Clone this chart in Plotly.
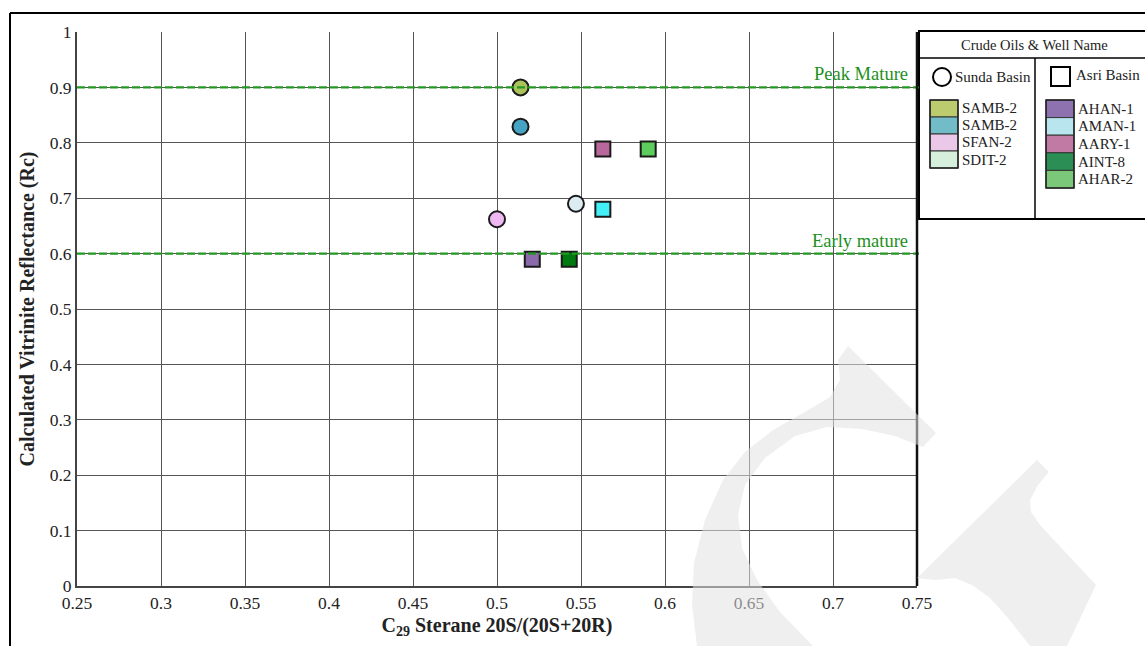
import plotly.graph_objects as go

# ---------------- data ----------------
sunda_names = ["SAMB-2", "SAMB-2", "SFAN-2", "SDIT-2"]
sunda_x = [0.514, 0.514, 0.500, 0.547]
sunda_y = [0.900, 0.829, 0.662, 0.690]
sunda_marker_colors = ["#a9c25a", "#45a4c4", "#f0b8f2", "#dcedf1"]
sunda_swatch_colors = ["#bccb6e", "#72bcc8", "#ecc8e8", "#d6eedc"]

asri_names = ["AHAN-1", "AMAN-1", "AARY-1", "AINT-8", "AHAR-2"]
asri_x = [0.521, 0.563, 0.563, 0.543, 0.590]
asri_y = [0.590, 0.680, 0.789, 0.590, 0.789]
asri_marker_colors = ["#8a6aaa", "#44f0f8", "#b8689a", "#007a10", "#5ccc5c"]
asri_swatch_colors = ["#8e72b0", "#b9e6ee", "#c07aa4", "#2b8f55", "#7cc87a"]

maturity_levels = [0.9, 0.6]
maturity_labels = ["Peak Mature", "Early mature"]

x_ticks = [0.25, 0.3, 0.35, 0.4, 0.45, 0.5, 0.55, 0.6, 0.65, 0.7, 0.75]
y_ticks = [0, 0.1, 0.2, 0.3, 0.4, 0.5, 0.6, 0.7, 0.8, 0.9, 1]

# ---------------- layout constants ----------------
W, H = 1145, 646
L, R, T, B = 77, 917, 32, 586
FONT = "Liberation Serif"
GREEN = "#1e8f1e"


def px_x(p):
    return (p - L) / (R - L)


def px_y(p):
    return (B - p) / (B - T)


def px_path(points):
    s = ""
    for i, (x, y) in enumerate(points):
        s += ("M" if i == 0 else "L") + f"{px_x(x):.5f},{px_y(y):.5f} "
    return s + "Z"


fig = go.Figure()

fig.add_trace(go.Scatter(
    x=sunda_x, y=sunda_y, mode="markers", text=sunda_names,
    marker=dict(symbol="circle", size=16, color=sunda_marker_colors,
                line=dict(color="#1a1a1a", width=2)),
    showlegend=False, hovertemplate="%{text}<extra></extra>"))

fig.add_trace(go.Scatter(
    x=asri_x, y=asri_y, mode="markers", text=asri_names,
    marker=dict(symbol="square", size=15, color=asri_marker_colors,
                line=dict(color="#1a1a1a", width=2)),
    showlegend=False, hovertemplate="%{text}<extra></extra>"))

shapes = []
annotations = []

# maturity dashed lines
for lvl, lab in zip(maturity_levels, maturity_labels):
    shapes.append(dict(type="line", xref="paper", yref="y", x0=0, x1=px_x(919),
                       y0=lvl, y1=lvl, layer="above",
                       line=dict(color="#229a22", width=2.2, dash="8px,3px")))
    annotations.append(dict(xref="paper", yref="y", x=px_x(910), y=lvl, text=lab,
                            showarrow=False, xanchor="right", yanchor="bottom", yshift=1,
                            font=dict(family=FONT, size=18.5, color=GREEN)))

# right plot border
shapes.append(dict(type="line", xref="paper", yref="paper", x0=1, x1=1, y0=0, y1=1,
                   line=dict(color="#111", width=2.5)))

# outer frame (left + top)
shapes.append(dict(type="line", xref="paper", yref="paper", x0=px_x(10), x1=px_x(10),
                   y0=px_y(13), y1=px_y(H + 5), line=dict(color="black", width=2)))
shapes.append(dict(type="line", xref="paper", yref="paper", x0=px_x(10), x1=px_x(W + 5),
                   y0=px_y(13), y1=px_y(13), line=dict(color="black", width=2)))

# legend box
lx0, lx1, ly0, ly1 = 919, 1146, 31, 219
shapes.append(dict(type="rect", xref="paper", yref="paper", x0=px_x(lx0), x1=px_x(lx1),
                   y0=px_y(ly1), y1=px_y(ly0), line=dict(color="black", width=2),
                   fillcolor="white", layer="below"))
shapes.append(dict(type="line", xref="paper", yref="paper", x0=px_x(lx0), x1=px_x(lx1),
                   y0=px_y(58), y1=px_y(58), line=dict(color="black", width=1.5)))
shapes.append(dict(type="line", xref="paper", yref="paper", x0=px_x(1035), x1=px_x(1035),
                   y0=px_y(58), y1=px_y(ly1), line=dict(color="black", width=1.5)))
annotations.append(dict(xref="paper", yref="paper", x=px_x(1034), y=px_y(45),
                        text="Crude Oils & Well Name", showarrow=False,
                        xanchor="center", yanchor="middle",
                        font=dict(family=FONT, size=14.5, color="#222")))

# basin headers
shapes.append(dict(type="circle", xref="paper", yref="paper", x0=px_x(933), x1=px_x(951),
                   y0=px_y(86), y1=px_y(68), line=dict(color="black", width=2)))
annotations.append(dict(xref="paper", yref="paper", x=px_x(953), y=px_y(77),
                        text="Sunda Basin", showarrow=False, xanchor="left", yanchor="middle",
                        font=dict(family=FONT, size=15, color="#222")))
shapes.append(dict(type="rect", xref="paper", yref="paper", x0=px_x(1051), x1=px_x(1070),
                   y0=px_y(86), y1=px_y(67), line=dict(color="black", width=2)))
annotations.append(dict(xref="paper", yref="paper", x=px_x(1074), y=px_y(75),
                        text="Asri Basin", showarrow=False, xanchor="left", yanchor="middle",
                        font=dict(family=FONT, size=15, color="#222")))


def swatch_column(names, colors, x0, x1, tx, top, step):
    for i, (n, c) in enumerate(zip(names, colors)):
        y0 = top + i * step
        shapes.append(dict(type="rect", xref="paper", yref="paper", x0=px_x(x0), x1=px_x(x1),
                           y0=px_y(y0 + step), y1=px_y(y0), fillcolor=c,
                           line=dict(color="#333", width=1)))
        annotations.append(dict(xref="paper", yref="paper", x=px_x(tx), y=px_y(y0 + step / 2),
                                text=n, showarrow=False, xanchor="left", yanchor="middle",
                                font=dict(family=FONT, size=15, color="#222")))
    shapes.append(dict(type="rect", xref="paper", yref="paper", x0=px_x(x0), x1=px_x(x1),
                       y0=px_y(top + len(names) * step), y1=px_y(top),
                       line=dict(color="#222", width=1.5)))


swatch_column(sunda_names, sunda_swatch_colors, 930, 958, 960, 100, 17)
swatch_column(asri_names, asri_swatch_colors, 1046, 1074, 1076, 100, 17.6)

# faint background watermark (decorative)
wm_fill = "rgba(226,226,226,0.55)"
wm_left = [(848, 346), (936, 433), (923, 447), (895, 436), (862, 429), (827, 427),
           (795, 436), (765, 458), (745, 485), (738, 515), (742, 548), (757, 580),
           (780, 612), (813, 646), (697, 646), (692, 605), (694, 563), (705, 520),
           (723, 480), (745, 452), (773, 430), (805, 412), (830, 397), (840, 380),
           (838, 360)]
wm_right = [(1037, 460), (1049, 472), (1038, 485), (1030, 500), (1031, 512),
            (1040, 525), (1096, 585), (1067, 646), (1030, 646), (1008, 618),
            (990, 598), (972, 585), (955, 578), (935, 580), (917, 578)]
for pts in (wm_left, wm_right):
    shapes.append(dict(type="path", xref="paper", yref="paper", path=px_path(pts),
                       fillcolor=wm_fill, line=dict(width=0), layer="above"))

fig.update_layout(
    width=W, height=H,
    margin=dict(l=L, r=W - R, t=T, b=H - B, autoexpand=False),
    paper_bgcolor="white", plot_bgcolor="white",
    font=dict(family=FONT, size=16, color="#222"),
    shapes=shapes, annotations=annotations,
    xaxis=dict(range=[0.25, 0.75], tickvals=x_ticks,
               ticktext=[f"{v:g}" for v in x_ticks],
               showgrid=True, gridcolor="#555", gridwidth=1,
               showline=True, linecolor="#444", linewidth=2,
               zeroline=False, ticks="", ticklen=0,
               tickfont=dict(family=FONT, size=17.5, color="#222"),
               title=dict(text="<b>C<sub>29</sub> Sterane 20S/(20S+20R)</b>",
                          font=dict(family=FONT, size=20, color="#222"), standoff=6)),
    yaxis=dict(range=[0, 1], tickvals=y_ticks,
               ticktext=[f"{v:g}" for v in y_ticks],
               showgrid=True, gridcolor="#555", gridwidth=1,
               showline=True, linecolor="#444", linewidth=2,
               zeroline=False, ticks="", ticklen=0,
               tickfont=dict(family=FONT, size=17.5, color="#222"),
               title=dict(text="<b>Calculated Vitrinite Reflectance (Rc)</b>",
                          font=dict(family=FONT, size=20, color="#222"), standoff=10)),
)

fig.write_html("out.html", config={"displayModeBar": False},
               post_script="document.body.style.margin='0';document.body.style.overflow='hidden';")
